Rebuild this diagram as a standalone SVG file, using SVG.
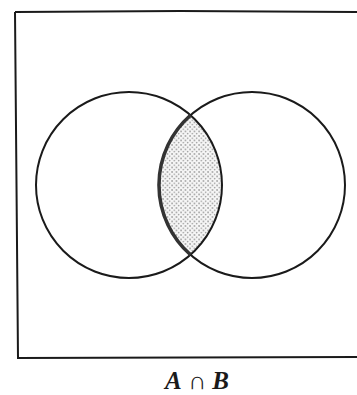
<svg xmlns="http://www.w3.org/2000/svg" width="357" height="395" viewBox="0 0 357 395">
<style>
.ln{fill:none;stroke:#1a1a1a;stroke-width:2}
.lbl{font-family:"Liberation Serif",serif;font-size:25px;fill:#1a1a1a}
</style>
<defs>
<pattern id="dots" width="4.5" height="4.5" patternUnits="userSpaceOnUse">
<rect width="4.5" height="4.5" fill="#f6f6f6"/>
<circle cx="1" cy="1" r="0.75" fill="#6a6a6a"/>
<circle cx="3.25" cy="3.25" r="0.75" fill="#8a8a8a"/>
</pattern>
</defs>
<rect width="357" height="395" fill="#fff"/>
<g id="universe">
<path class="ln" d="M15 12 L180 11 L357 12 M15 12 L18 358 L357 357" stroke-width="2.5"/>
</g>
<g id="intersection">
<path d="M190.5 115.2 A93 93 0 0 1 190.5 254.8 A93 93 0 0 1 190.5 115.2 Z" fill="url(#dots)"/>
</g>
<g id="setA">
<circle class="ln" cx="129" cy="185" r="93"/>
</g>
<g id="setB">
<circle class="ln" cx="252" cy="185" r="93"/>
</g>
<g id="connectors">
<path d="M190.5 115.2 A93 93 0 0 0 190.5 254.8" fill="none" stroke="#333" stroke-width="3.5"/>
</g>
<g id="caption">
<text class="lbl" x="197" y="389" text-anchor="middle"><tspan font-style="italic" font-weight="bold">A</tspan> ∩ <tspan font-style="italic" font-weight="bold">B</tspan></text>
</g>
</svg>
